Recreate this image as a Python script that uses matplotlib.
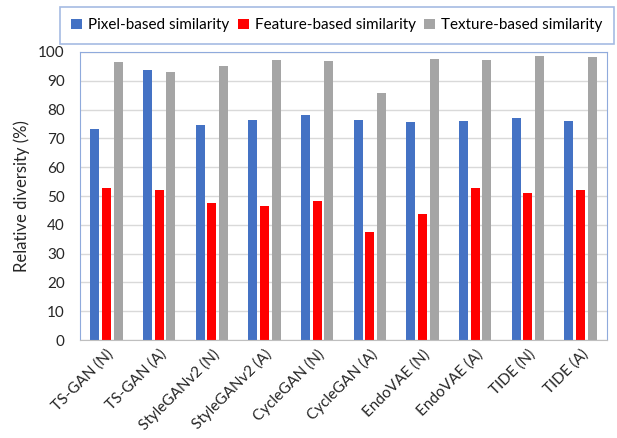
import matplotlib.pyplot as plt
import numpy as np

plt.rcParams['font.family'] = ['Lato', 'DejaVu Sans']

models = ['TS-GAN (N)', 'TS-GAN (A)', 'StyleGANv2 (N)', 'StyleGANv2 (A)',
          'CycleGAN (N)', 'CycleGAN (A)', 'EndoVAE (N)', 'EndoVAE (A)',
          'TIDE (N)', 'TIDE (A)']
pixel = [73.3, 93.7, 74.6, 76.5, 78.0, 76.4, 75.6, 76.0, 77.0, 76.2]
feature = [52.7, 52.0, 47.7, 46.6, 48.3, 37.4, 43.8, 52.9, 50.9, 52.0]
texture = [96.6, 93.2, 95.0, 97.1, 96.8, 85.7, 97.5, 97.3, 98.6, 98.4]

series = {
    'Pixel-based similarity': (pixel, '#4472C4'),
    'Feature-based similarity': (feature, '#FF0000'),
    'Texture-based similarity': (texture, '#A5A5A5'),
}

fig = plt.figure(figsize=(6.17, 4.38), dpi=100)
ax = fig.add_axes([0.1297, 0.2237, 0.8541, 0.6576])

x = np.arange(len(models))
pitch = 0.222
width = 0.172
handles = []
for i, (name, (vals, color)) in enumerate(series.items()):
    b = ax.bar(x + (i - 1) * pitch, vals, width=width, color=color, label=name, zorder=2)
    handles.append(b)

ax.set_xlim(-0.5, len(models) - 0.5)
ax.set_ylim(0, 100)
ax.set_yticks(range(0, 101, 10))
ax.yaxis.grid(True, color='#D9D9D9', linewidth=1)
ax.set_axisbelow(True)
ax.tick_params(axis='both', length=0, labelsize=11, colors='#262626')
ax.tick_params(axis='y', pad=11)
ax.tick_params(axis='x', pad=5)
ax.set_xticks(x)
ax.set_xticklabels(models, rotation=45, ha='right', rotation_mode='anchor')
ax.set_ylabel('Relative diversity (%)', fontsize=12, color='#262626', labelpad=6)

for s in ['left', 'top', 'right']:
    ax.spines[s].set_color('#8FAADC')
ax.spines['bottom'].set_color('#BFBFBF')

leg = fig.legend(handles=handles, loc='upper center',
                 bbox_to_anchor=(0.546, 0.984),
                 ncol=3, fontsize=11, handlelength=0.7, handleheight=0.7,
                 handletextpad=0.4, columnspacing=0.55, fancybox=False,
                 edgecolor='#8FAADC', borderpad=0.75, borderaxespad=0)
leg.get_frame().set_linewidth(1.2)

fig.savefig('out.png', dpi=100)
